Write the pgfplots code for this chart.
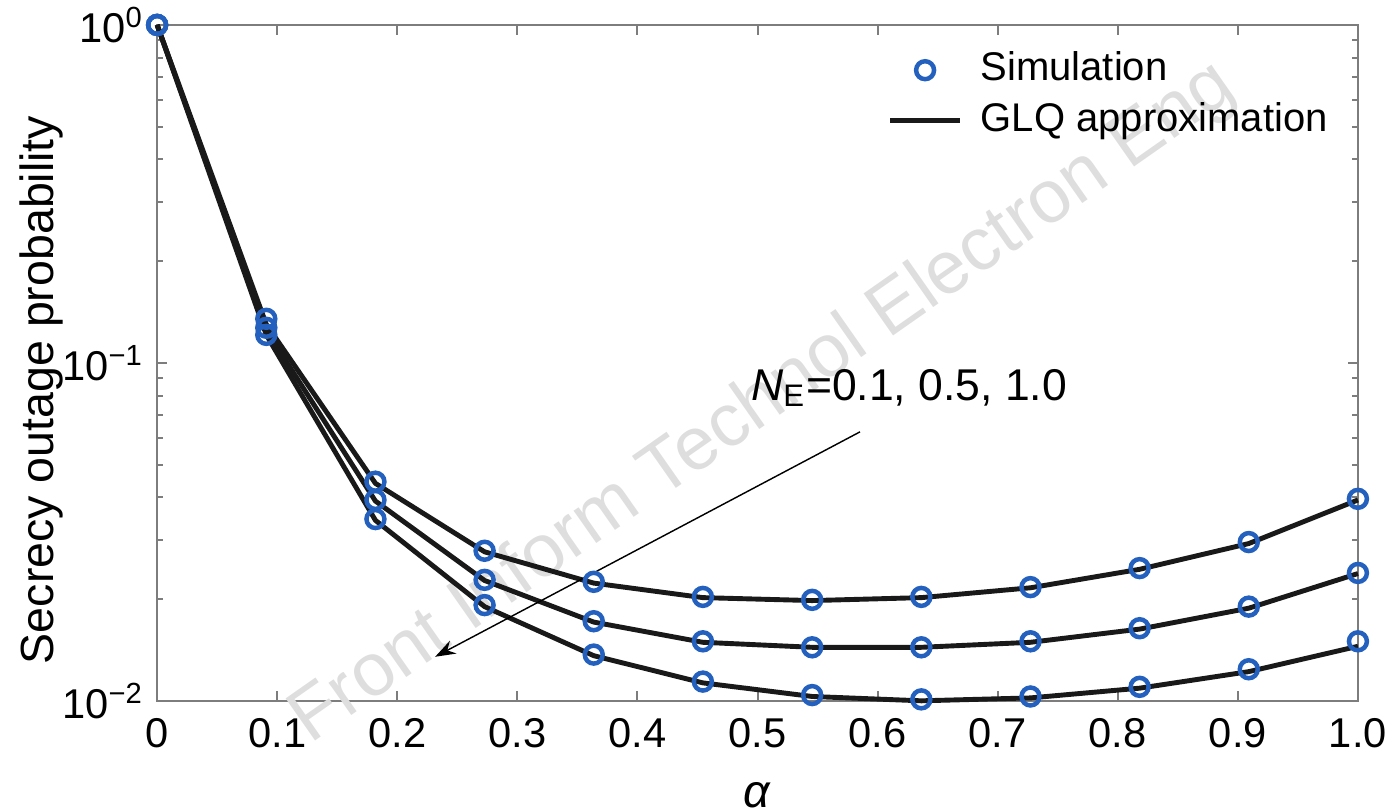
\documentclass[border=0pt]{standalone}
\usepackage{fontspec}
\setmainfont{Liberation Sans}
\usepackage{pgfplots}
\usepackage{pgfplotstable}
\pgfplotsset{compat=1.18}
\usetikzlibrary{arrows.meta}

\definecolor{simblue}{RGB}{36,96,190}
\definecolor{axgray}{RGB}{125,125,125}

% simulated points (circles), three N_E values
\pgfplotstableread{
x       top     mid     bot
0       1.0     1.0     1.0
0.0909  0.135   0.127   0.121
0.1818  0.0445  0.0393  0.0345
0.2727  0.0278  0.0228  0.0192
0.3636  0.0225  0.0172  0.0137
0.4545  0.0203  0.0150  0.0114
0.5455  0.0199  0.0144  0.0104
0.6364  0.0203  0.0144  0.0101
0.7273  0.0217  0.0150  0.0103
0.8182  0.0247  0.0164  0.0110
0.9091  0.0295  0.0190  0.0124
1.0     0.0396  0.0239  0.0150
}\simdata

% GLQ approximation (lines)
\pgfplotstableread{
x       top     mid     bot
0       1.0     1.0     1.0
0.0909  0.130   0.125   0.121
0.1818  0.0440  0.0390  0.0342
0.2727  0.0276  0.0227  0.0190
0.3636  0.0223  0.0171  0.0136
0.4545  0.0202  0.0149  0.0113
0.5455  0.0198  0.0144  0.0103
0.6364  0.0202  0.0144  0.0100
0.7273  0.0216  0.0149  0.0102
0.8182  0.0245  0.0163  0.0109
0.9091  0.0292  0.0188  0.0122
1.0     0.0393  0.0238  0.0145
}\glqdata

\begin{document}
\begin{tikzpicture}
\begin{axis}[
    name=main,
    scale only axis,
    width=294.2pt, height=165.6pt,
    xmin=0, xmax=1,
    ymode=log, ymin=0.01, ymax=1,
    xtick={0,0.1,0.2,0.3,0.4,0.5,0.6,0.7,0.8,0.9,1},
    xticklabels={0,0.1,0.2,0.3,0.4,0.5,0.6,0.7,0.8,0.9,1.0},
    ytick={0.01,0.1,1},
    yticklabels={10\textsuperscript{−2},10\textsuperscript{−1},10\textsuperscript{0}},
    minor ytick={0.02,0.03,0.04,0.05,0.06,0.07,0.08,0.09,0.2,0.3,0.4,0.5,0.6,0.7,0.8,0.9},
    tick align=inside,
    major tick length=2.5pt, minor tick length=1.5pt,
    axis line style={axgray, line width=0.5pt},
    tick style={axgray, line width=0.5pt},
    tick label style={font=\fontsize{10.2}{12}\selectfont, black},
    xticklabel style={yshift=-0.8pt},
    yticklabel style={xshift=0.3pt},
    xlabel={\textit{α}},
    ylabel={Secrecy outage probability},
    label style={font=\fontsize{11.4}{13}\selectfont},
    xlabel style={at={(axis description cs:0.5,-0.139)}, anchor=center},
    ylabel style={at={(axis description cs:-0.0965,0.46)}, anchor=center},
    clip=false,
    legend style={at={(axis description cs:0.6078,0.968)}, anchor=north west,
        draw=none, fill=none, inner sep=0pt, column sep=3.5pt, row sep=1.2pt,
        font=\fontsize{9.8}{11}\selectfont,
        nodes={inner sep=1pt, text height=7.1pt, text depth=2.1pt}},
    legend cell align=left,
]
\node[rotate=35, text=black!13, font=\fontsize{18.3}{20}\selectfont]
    at (rel axis cs:0.505,0.44) {Front Inform Technol Electron Eng};

\addplot[only marks, mark=o, mark size=2.2pt, mark options={draw=simblue, line width=1.1pt}]
    table[x=x, y=top] {\simdata};
\addlegendentry{Simulation}
\addplot[only marks, mark=o, mark size=2.2pt, mark options={draw=simblue, line width=1.1pt}, forget plot]
    table[x=x, y=mid] {\simdata};
\addplot[only marks, mark=o, mark size=2.2pt, mark options={draw=simblue, line width=1.1pt}, forget plot]
    table[x=x, y=bot] {\simdata};

\addplot[black!90, line width=1.2pt, no markers] table[x=x, y=top] {\glqdata};
\addlegendentry{GLQ approximation}
\addplot[black!90, line width=1.2pt, no markers, forget plot] table[x=x, y=mid] {\glqdata};
\addplot[black!90, line width=1.2pt, no markers, forget plot] table[x=x, y=bot] {\glqdata};

\draw[black, line width=0.35pt, -{Stealth[length=5pt,width=3.5pt]}]
    (axis cs:0.5853,0.06249) -- (axis cs:0.2315,0.0135);
\node[anchor=east, inner sep=0pt, font=\fontsize{10.9}{12}\selectfont]
    at (axis cs:0.7585,0.0843) {\textit{N}\textsubscript{E}=0.1, 0.5, 1.0};
\end{axis}
\pgfresetboundingbox
\path ([xshift=-38.5pt,yshift=-26.95pt]main.south west)
    rectangle ([xshift=8.1pt,yshift=6.1pt]main.north east);
\end{tikzpicture}
\end{document}
